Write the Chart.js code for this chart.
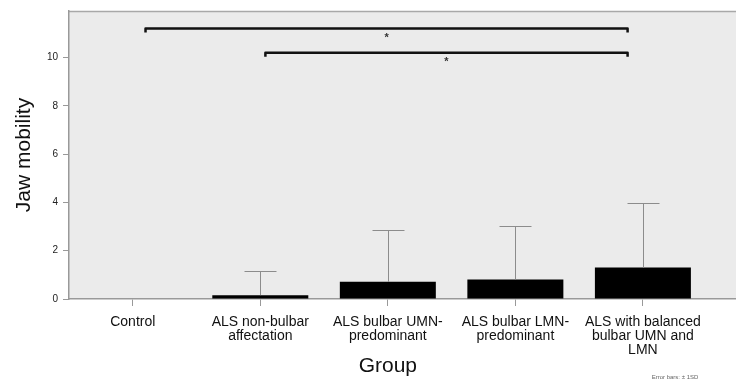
<!DOCTYPE html>
<html>
<head>
<meta charset="utf-8">
<script src="https://cdn.jsdelivr.net/npm/chart.js@4/dist/chart.umd.min.js"></script>
<style>
html,body{margin:0;padding:0;background:#fff;}
#wrap{width:736px;height:383px;position:relative;}
</style>
</head>
<body>
<div id="wrap"><canvas id="c" width="736" height="383"></canvas></div>
<script>
const categories = ["Control", ["ALS non-bulbar", "affectation"], ["ALS bulbar UMN-", "predominant"], ["ALS bulbar LMN-", "predominant"], ["ALS with balanced", "bulbar UMN and", "LMN"]];
const means = [0, 0.16, 0.71, 0.81, 1.30];
const sds = [0, 1.02, 2.16, 2.21, 2.69];
const yTicks = [0, 2, 4, 6, 8, 10];
const bracketFrom = [0.1, 1.04];
const bracketTo = [3.88, 3.88];
const bracketY = [11.2, 10.2];
const bracketLabel = ["*", "*"];
const xTitle = "Group";
const yTitle = "Jaw mobility";
const footNote = "Error bars: \u00b1 1SD";

const FONT = "'Liberation Sans', Arial, Helvetica, sans-serif";

const decor = {
  id: 'decor',
  beforeDraw(chart) {
    const {ctx, chartArea: a} = chart;
    ctx.save();
    ctx.fillStyle = '#ebebeb';
    ctx.fillRect(a.left, a.top, a.right - a.left, a.bottom - a.top);
    ctx.strokeStyle = '#a8a8a8';
    ctx.lineWidth = 1.5;
    ctx.beginPath();
    ctx.moveTo(a.left, a.top + 0.5);
    ctx.lineTo(a.right, a.top + 0.5);
    ctx.stroke();
    ctx.restore();
  },
  afterDatasetsDraw(chart) {
    const {ctx} = chart;
    const xs = chart.scales.x, ys = chart.scales.y;
    ctx.save();
    // error bars (upper, +1 SD)
    ctx.strokeStyle = '#8c8c8c';
    ctx.lineWidth = 1;
    means.forEach((m, i) => {
      if (!sds[i]) return;
      const x = Math.round(xs.getPixelForValue(i)) + 0.5;
      const y0 = ys.getPixelForValue(m);
      const y1 = Math.round(ys.getPixelForValue(m + sds[i])) + 0.5;
      ctx.beginPath();
      ctx.moveTo(x, y0);
      ctx.lineTo(x, y1);
      ctx.moveTo(x - 16, y1);
      ctx.lineTo(x + 16, y1);
      ctx.stroke();
    });
    // significance brackets
    ctx.strokeStyle = '#111';
    ctx.lineWidth = 2.5;
    ctx.lineJoin = 'round';
    bracketY.forEach((v, i) => {
      const x0 = xs.getPixelForValue(bracketFrom[i]);
      const x1 = xs.getPixelForValue(bracketTo[i]);
      const y = ys.getPixelForValue(v);
      ctx.beginPath();
      ctx.moveTo(x0, y + 4);
      ctx.lineTo(x0, y);
      ctx.lineTo(x1, y);
      ctx.lineTo(x1, y + 4);
      ctx.stroke();
      ctx.fillStyle = '#333';
      ctx.font = 'bold 11px ' + FONT;
      ctx.textAlign = 'center';
      ctx.textBaseline = 'middle';
      ctx.fillText(bracketLabel[i], (x0 + x1) / 2, y + 9);
    });
    // x title
    ctx.fillStyle = '#111';
    ctx.font = '21px ' + FONT;
    ctx.textAlign = 'center';
    ctx.textBaseline = 'middle';
    ctx.fillText(xTitle, xs.getPixelForValue(2), 366);
    // footnote
    ctx.fillStyle = '#666';
    ctx.font = '6px ' + FONT;
    ctx.fillText(footNote, 675, 377);
    ctx.restore();
  }
};

new Chart(document.getElementById('c'), {
  type: 'bar',
  data: {
    datasets: [{
      data: means.map((v, i) => ({x: i, y: v})),
      backgroundColor: '#000',
      borderWidth: 0,
      inflateAmount: 0,
      barThickness: 96
    }]
  },
  options: {
    responsive: false,
    animation: false,
    devicePixelRatio: 1,
    layout: {padding: {top: 9, right: 0, left: 0, bottom: 0}},
    plugins: {legend: {display: false}, tooltip: {enabled: false}},
    scales: {
      x: {
        type: 'linear',
        offset: false,
        min: -0.5,
        max: 4.73,
        afterBuildTicks: s => { s.ticks = categories.map((_, i) => ({value: i})); },
        afterFit: s => { s.height = 84; },
        border: {display: true, color: '#999', width: 1.5},
        grid: {display: true, offset: false, drawOnChartArea: false, drawTicks: true, tickLength: 7, color: '#999', lineWidth: 1},
        ticks: {
          autoSkip: false,
          maxRotation: 0,
          padding: 9,
          color: '#111',
          font: {family: FONT, size: 14, lineHeight: 1.0},
          callback: v => categories[v]
        }
      },
      y: {
        min: 0,
        max: 11.93,
        afterBuildTicks: s => { s.ticks = yTicks.map(v => ({value: v})); },
        afterFit: s => { s.width = 69; },
        border: {display: true, color: '#999', width: 1.5},
        grid: {display: true, drawOnChartArea: false, drawTicks: true, tickLength: 6, color: '#999', lineWidth: 1},
        ticks: {
          padding: 5,
          color: '#222',
          font: {family: FONT, size: 10}
        },
        title: {
          display: true,
          text: yTitle,
          color: '#111',
          font: {family: FONT, size: 21, lineHeight: 1.2},
          padding: {top: 12, bottom: 0}
        }
      }
    }
  },
  plugins: [decor]
});
</script>
</body>
</html>
